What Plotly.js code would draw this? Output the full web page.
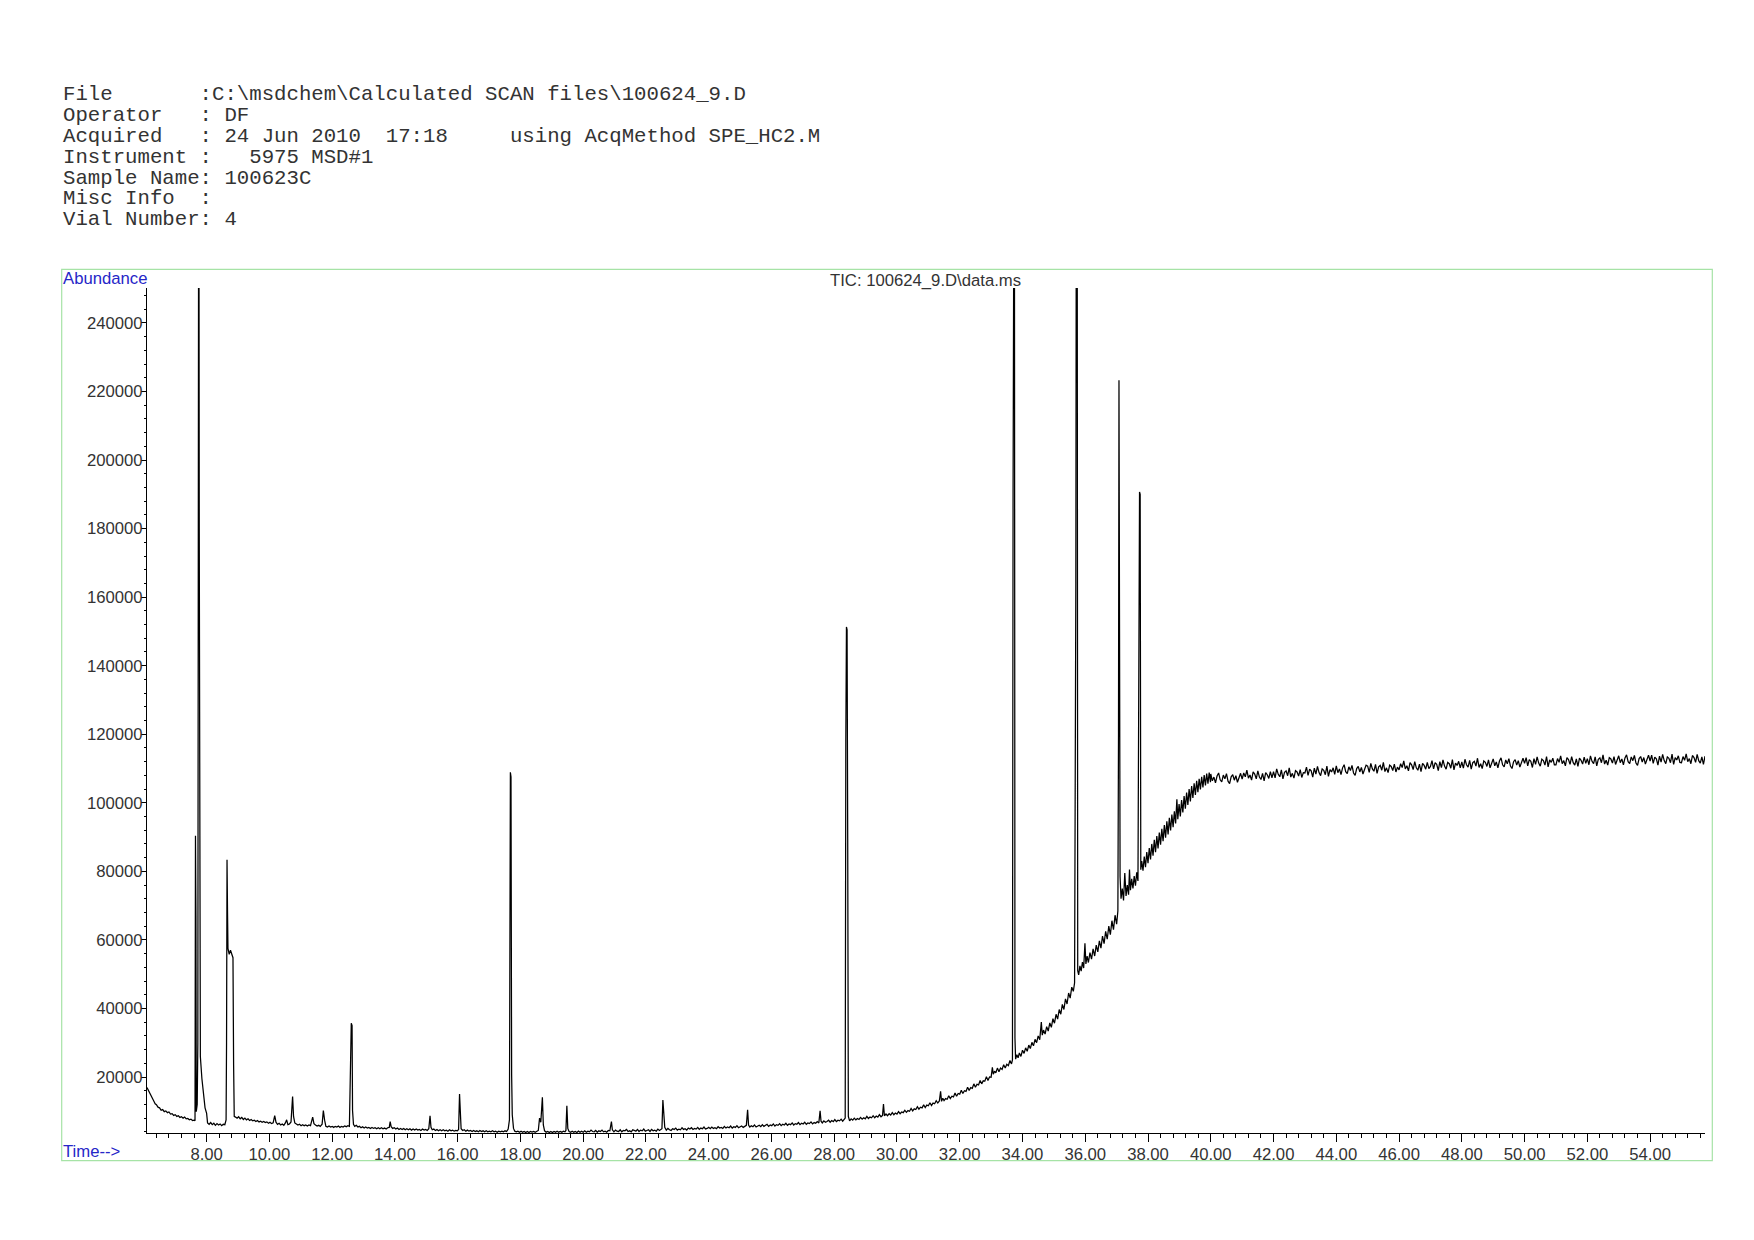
<!DOCTYPE html>
<html>
<head>
<meta charset="utf-8">
<script src="https://cdn.plot.ly/plotly-3.0.1.min.js"></script>
<style>
html,body{margin:0;padding:0;background:#fff;}
#chart{width:1754px;height:1240px;}
</style>
</head>
<body>
<div id="chart"></div>
<script>
// ---------------- DATA ----------------
const headerLines = [
  "File       :C:\\msdchem\\Calculated SCAN files\\100624_9.D",
  "Operator   : DF",
  "Acquired   : 24 Jun 2010  17:18     using AcqMethod SPE_HC2.M",
  "Instrument :   5975 MSD#1",
  "Sample Name: 100623C",
  "Misc Info  :",
  "Vial Number: 4"
];
const plotTitle = "TIC: 100624_9.D\\data.ms";
const yLabel = "Abundance";
const xLabel = "Time--&gt;";

// Retention time (min) and abundance, 6.1 - 20 min
const timeEarly = [6.10,6.13,6.16,6.20,6.24,6.28,6.32,6.36,6.40,6.45,6.50,6.55,6.60,6.65,6.70,6.75,6.80,6.85,6.90,6.95,7.00,7.05,7.10,7.15,7.20,7.25,7.30,7.35,7.40,7.45,7.50,7.55,7.60,7.63,7.645,7.66,7.67,7.70,7.72,7.735,7.75,7.765,7.78,7.80,7.85,7.90,7.95,8.00,8.03,8.08,8.13,8.18,8.23,8.28,8.33,8.38,8.43,8.48,8.53,8.58,8.62,8.635,8.65,8.665,8.68,8.72,8.76,8.80,8.84,8.86,8.88,8.92,8.97,9.02,9.07,9.12,9.17,9.22,9.27,9.32,9.37,9.42,9.47,9.52,9.57,9.62,9.67,9.72,9.77,9.82,9.87,9.92,9.97,10.02,10.07,10.12,10.17,10.21,10.26,10.31,10.36,10.41,10.46,10.51,10.55,10.59,10.64,10.69,10.74,10.77,10.81,10.86,10.91,10.96,11.01,11.06,11.11,11.16,11.21,11.26,11.31,11.38,11.42,11.47,11.52,11.57,11.62,11.68,11.72,11.76,11.80,11.85,11.90,11.95,12.00,12.05,12.10,12.15,12.20,12.25,12.30,12.35,12.40,12.45,12.50,12.55,12.59,12.61,12.635,12.65,12.68,12.72,12.77,12.82,12.87,12.92,12.97,13.02,13.07,13.12,13.17,13.22,13.27,13.32,13.37,13.42,13.47,13.52,13.57,13.62,13.67,13.72,13.77,13.82,13.85,13.88,13.93,13.98,14.03,14.08,14.13,14.18,14.23,14.28,14.33,14.38,14.43,14.48,14.53,14.58,14.63,14.68,14.73,14.78,14.83,14.88,14.93,14.98,15.03,15.08,15.12,15.15,15.19,15.24,15.29,15.34,15.39,15.44,15.49,15.54,15.59,15.64,15.69,15.74,15.79,15.84,15.89,15.94,15.99,16.03,16.06,16.08,16.11,16.16,16.21,16.26,16.31,16.36,16.41,16.46,16.51,16.56,16.61,16.66,16.71,16.76,16.81,16.86,16.91,16.96,17.01,17.06,17.11,17.16,17.21,17.26,17.31,17.36,17.41,17.46,17.51,17.56,17.61,17.65,17.68,17.70,17.72,17.74,17.78,17.82,17.87,17.92,17.97,18.02,18.07,18.12,18.17,18.22,18.27,18.32,18.37,18.42,18.47,18.52,18.57,18.61,18.65,18.70,18.73,18.77,18.82,18.87,18.92,18.97,19.02,19.07,19.12,19.17,19.22,19.27,19.32,19.37,19.42,19.45,19.48,19.51,19.55,19.60,19.65,19.70,19.75,19.80,19.85,19.90,19.95,20.00];
const abundEarly = [16900,16300,15600,14800,14100,13200,12900,12200,11900,11200,11000,10300,10500,9900,10100,9600,9800,9200,9300,8800,9000,8500,8700,8200,8400,8000,8300,7800,7900,7500,7700,7300,7400,7200,90400,66800,9900,12000,29900,330000,330000,180000,30000,26000,19500,14500,11000,9400,6600,6200,6700,6100,6500,5900,6400,6000,6300,5800,6200,6100,7500,30000,83400,69000,57500,55800,57000,55500,54800,23500,8500,8300,8000,8400,7800,8200,7600,8000,7500,7800,7300,7600,7200,7400,7000,7300,6900,7100,6800,7000,6700,6900,6500,6800,6400,6600,8700,6800,6200,6500,6000,6300,5900,6600,7500,6100,6300,6900,14300,8500,6600,6300,6000,6200,5800,6100,5800,6000,5700,6000,5800,8300,6400,6000,5700,5900,5600,6200,10200,7400,5600,5400,5700,5400,5600,5300,5600,5400,5700,5300,5600,5400,5700,5500,5800,5600,23000,35700,35000,10200,6200,5600,5900,5400,5600,5200,5500,5100,5400,5100,5300,5000,5300,5000,5200,4900,5200,4900,5200,4900,5100,4800,5200,5300,7000,5500,5000,5200,4800,5100,4700,5000,4700,5000,4600,4900,4600,4900,4500,4800,4500,4800,4500,4700,4400,4800,4500,4700,4400,4900,8650,5300,4600,4800,4400,4700,4300,4600,4300,4600,4300,4500,4200,4600,4300,4500,4200,4400,4300,4700,15000,10000,4900,4400,4600,4200,4500,4200,4400,4100,4400,4100,4300,4000,4400,4100,4300,4000,4300,4000,4200,4000,4300,4000,4200,3900,4200,4000,4200,4000,4300,4100,4800,7500,108900,107500,20600,9000,5000,4200,4000,4200,3900,4200,3900,4100,3800,4100,3800,4100,3900,4100,3900,4200,4400,8000,6800,14100,6000,4300,3900,4100,3800,4100,3800,4100,3900,4200,3900,4100,3900,4200,4000,4400,11600,5000,4100,3900,4200,3900,4100,3800,4200,3900,4200,3900];

// 20 - 40 min (rising baseline)
const timeMid = [20.05,20.10,20.15,20.20,20.25,20.30,20.35,20.40,20.45,20.50,20.55,20.60,20.65,20.70,20.75,20.80,20.85,20.90,20.93,20.98,21.03,21.08,21.13,21.18,21.23,21.28,21.33,21.38,21.43,21.48,21.53,21.58,21.63,21.68,21.73,21.78,21.83,21.88,21.93,21.98,22.03,22.08,22.13,22.18,22.23,22.28,22.33,22.38,22.43,22.48,22.51,22.54,22.57,22.60,22.65,22.70,22.75,22.80,22.85,22.90,22.95,23.00,23.05,23.10,23.15,23.20,23.25,23.30,23.35,23.40,23.45,23.50,23.55,23.60,23.65,23.70,23.75,23.80,23.85,23.90,23.95,24.00,24.05,24.10,24.15,24.20,24.25,24.30,24.35,24.40,24.45,24.50,24.55,24.60,24.65,24.70,24.75,24.80,24.85,24.90,24.95,25.00,25.05,25.10,25.15,25.20,25.24,25.27,25.31,25.36,25.41,25.46,25.51,25.56,25.61,25.66,25.71,25.76,25.81,25.86,25.91,25.96,26.01,26.06,26.11,26.16,26.21,26.26,26.31,26.36,26.41,26.46,26.51,26.56,26.61,26.66,26.71,26.76,26.81,26.86,26.91,26.96,27.01,27.06,27.11,27.16,27.21,27.26,27.31,27.36,27.41,27.46,27.51,27.55,27.58,27.62,27.67,27.72,27.77,27.82,27.87,27.92,27.97,28.02,28.07,28.12,28.17,28.22,28.27,28.32,28.35,28.37,28.39,28.41,28.43,28.45,28.49,28.54,28.59,28.64,28.69,28.74,28.79,28.84,28.89,28.94,28.99,29.04,29.09,29.14,29.19,29.24,29.29,29.34,29.39,29.44,29.49,29.54,29.57,29.60,29.65,29.70,29.75,29.80,29.85,29.90,29.95,30.00,30.05,30.10,30.15,30.20,30.25,30.30,30.35,30.40,30.45,30.50,30.55,30.60,30.65,30.70,30.75,30.80,30.85,30.90,30.95,31.00,31.05,31.10,31.15,31.20,31.25,31.30,31.35,31.39,31.42,31.46,31.50,31.55,31.60,31.65,31.70,31.75,31.80,31.85,31.90,31.95,32.00,32.05,32.10,32.15,32.20,32.25,32.30,32.35,32.40,32.45,32.50,32.55,32.60,32.65,32.70,32.75,32.80,32.85,32.90,32.95,33.00,33.04,33.07,33.11,33.15,33.20,33.25,33.30,33.35,33.40,33.45,33.50,33.55,33.60,33.65,33.68,33.70,33.72,33.74,33.76,33.78,33.82,33.86,33.90,33.95,34.00,34.05,34.10,34.15,34.20,34.25,34.30,34.35,34.40,34.45,34.50,34.55,34.60,34.63,34.67,34.72,34.77,34.82,34.87,34.92,34.97,35.02,35.07,35.12,35.17,35.22,35.27,35.32,35.37,35.42,35.47,35.52,35.57,35.62,35.66,35.70,35.72,35.74,35.76,35.79,35.83,35.87,35.91,35.95,35.99,36.02,36.06,36.10,36.15,36.20,36.25,36.30,36.35,36.40,36.45,36.50,36.55,36.60,36.65,36.70,36.75,36.80,36.85,36.90,36.95,37.00,37.04,37.06,37.075,37.09,37.11,37.14,37.18,37.22,37.26,37.30,37.34,37.38,37.41,37.44,37.48,37.52,37.56,37.60,37.64,37.68,37.71,37.73,37.75,37.77,37.80,37.84,37.88,37.92,37.96,38.00,38.04,38.08,38.12,38.16,38.20,38.24,38.28,38.32,38.36,38.40,38.44,38.48,38.52,38.56,38.60,38.64,38.68,38.72,38.76,38.80,38.84,38.88,38.92,38.95,38.99,39.03,39.07,39.11,39.15,39.19,39.23,39.27,39.31,39.35,39.39,39.43,39.47,39.51,39.55,39.59,39.63,39.67,39.71,39.75,39.79,39.83,39.87,39.91,39.95,39.99];
const abundMid = [4300,3900,4200,4000,4500,4100,4000,4400,3900,4300,4100,4500,4000,4200,3900,4400,4300,7000,4600,4000,4500,4200,4100,4600,4000,4400,4300,4700,4100,4300,4000,4600,4400,4200,4700,4100,4500,4300,4800,4200,4400,4600,4100,4700,4300,4500,4200,4800,4400,4600,4900,13300,8000,5300,4500,5000,4600,4400,4900,4700,5100,4500,4800,4600,5200,4700,4900,4500,5100,4800,5200,4700,5000,4800,5300,4700,5100,4900,5400,4800,5000,5300,4900,5400,5000,5200,4900,5500,5100,5300,5000,5600,5100,5400,5200,5700,5100,5500,5300,5800,5200,5400,5700,5300,5600,5900,10400,6000,5400,5800,5500,6000,5400,5700,5900,5500,6100,5600,5800,6200,5600,6000,5800,6300,5700,6100,5900,6400,5800,6200,6000,6500,5900,6300,6100,6600,6000,6400,6200,6700,6100,6500,6300,6800,6200,6600,6400,6900,6300,6700,6500,7000,6600,10100,7100,6600,7200,6800,7000,7400,6800,7300,7000,7600,7000,7400,7200,7700,7100,7600,8000,118000,151300,150500,89500,8500,7200,7800,7400,8000,7500,7900,7600,8200,7700,8100,7800,8500,7900,8300,8100,8700,8100,8600,8300,9000,8400,8800,12100,8700,9200,8700,9300,8900,9600,9000,9500,9200,9900,9300,9800,9600,10300,9700,10200,10000,10800,10100,10700,10500,11300,10600,11200,11000,11900,11100,11800,11600,12500,11700,12400,12200,13100,12400,13000,15800,12900,13800,13100,13700,13500,14500,13700,14400,14200,15300,14400,15200,15000,16100,15200,16000,15800,17000,16100,16900,16700,18000,17000,17900,17700,19000,18000,18900,18800,20100,19000,20000,19900,22800,20800,21700,21200,22600,21500,22600,22200,23600,22600,23700,23300,24800,23800,25000,190400,330000,330000,31400,25200,26500,25600,27000,26000,27800,26900,28500,27500,29300,28300,30100,29100,31000,30000,32000,30900,36000,32200,33700,32500,34700,33400,35800,34500,37000,35700,38300,36900,39700,38300,41200,39700,42800,41300,44500,43000,46200,45000,47500,164300,330000,330000,51000,49800,52400,50900,53500,51800,59000,53000,55300,53400,56300,54400,57400,55300,58500,56500,59700,57600,61100,58900,62500,60200,64000,61500,65600,63000,67200,64600,68500,120600,223300,175300,78500,72000,75000,71500,79500,72800,76000,73200,80500,74500,77800,75000,78600,75800,79700,77200,126500,190700,190000,80500,83000,80200,84300,81200,85600,82400,86800,83500,88000,84600,89200,85600,90300,86700,91300,87800,92400,88800,93500,89800,94600,90800,95600,91900,96600,92900,97500,94000,101000,95200,99600,96000,100800,97200,102000,98300,103000,99400,104000,100400,104900,101400,105700,102300,106400,103100,107000,103900,107600,104500,108100,105100,108500,105600,108800,106000];

// 40 - 55.75 min plateau (noisy), one row per minute
const timeLate = [
40.00,40.05,40.10,40.15,40.20,40.25,40.30,40.35,40.40,40.45,40.50,40.55,40.60,40.65,40.70,40.75,40.80,40.85,40.90,40.95,
41.00,41.05,41.10,41.15,41.20,41.25,41.30,41.35,41.40,41.45,41.50,41.55,41.60,41.65,41.70,41.75,41.80,41.85,41.90,41.95,
42.00,42.05,42.10,42.15,42.20,42.25,42.30,42.35,42.40,42.45,42.50,42.55,42.60,42.65,42.70,42.75,42.80,42.85,42.90,42.95,
43.00,43.05,43.10,43.15,43.20,43.25,43.30,43.35,43.40,43.45,43.50,43.55,43.60,43.65,43.70,43.75,43.80,43.85,43.90,43.95,
44.00,44.05,44.10,44.15,44.20,44.25,44.30,44.35,44.40,44.45,44.50,44.55,44.60,44.65,44.70,44.75,44.80,44.85,44.90,44.95,
45.00,45.05,45.10,45.15,45.20,45.25,45.30,45.35,45.40,45.45,45.50,45.55,45.60,45.65,45.70,45.75,45.80,45.85,45.90,45.95,
46.00,46.05,46.10,46.15,46.20,46.25,46.30,46.35,46.40,46.45,46.50,46.55,46.60,46.65,46.70,46.75,46.80,46.85,46.90,46.95,
47.00,47.05,47.10,47.15,47.20,47.25,47.30,47.35,47.40,47.45,47.50,47.55,47.60,47.65,47.70,47.75,47.80,47.85,47.90,47.95,
48.00,48.05,48.10,48.15,48.20,48.25,48.30,48.35,48.40,48.45,48.50,48.55,48.60,48.65,48.70,48.75,48.80,48.85,48.90,48.95,
49.00,49.05,49.10,49.15,49.20,49.25,49.30,49.35,49.40,49.45,49.50,49.55,49.60,49.65,49.70,49.75,49.80,49.85,49.90,49.95,
50.00,50.05,50.10,50.15,50.20,50.25,50.30,50.35,50.40,50.45,50.50,50.55,50.60,50.65,50.70,50.75,50.80,50.85,50.90,50.95,
51.00,51.05,51.10,51.15,51.20,51.25,51.30,51.35,51.40,51.45,51.50,51.55,51.60,51.65,51.70,51.75,51.80,51.85,51.90,51.95,
52.00,52.05,52.10,52.15,52.20,52.25,52.30,52.35,52.40,52.45,52.50,52.55,52.60,52.65,52.70,52.75,52.80,52.85,52.90,52.95,
53.00,53.05,53.10,53.15,53.20,53.25,53.30,53.35,53.40,53.45,53.50,53.55,53.60,53.65,53.70,53.75,53.80,53.85,53.90,53.95,
54.00,54.05,54.10,54.15,54.20,54.25,54.30,54.35,54.40,54.45,54.50,54.55,54.60,54.65,54.70,54.75,54.80,54.85,54.90,54.95,
55.00,55.05,55.10,55.15,55.20,55.25,55.30,55.35,55.40,55.45,55.50,55.55,55.60,55.65,55.70,55.75];
const abundLate = [
108400,106400,107500,105800,107800,108700,106700,106100,108100,107000,108500,106300,105600,107600,108200,106600,107900,106000,107300,108600,
106900,108700,107600,109500,107200,108100,106600,109000,108400,107000,109300,107500,106800,108600,106400,108800,108200,107100,109100,107300,
109100,107300,109900,108300,107600,109600,107000,108900,109300,107900,110200,107500,108600,107200,109400,109000,107800,109700,107400,108800,
108700,110400,108000,109800,109300,107500,110100,108400,110600,108800,107900,109900,109500,108200,110700,107700,109700,109000,110200,108300,
110800,108800,109900,108200,110200,111100,109100,108500,110500,109400,110900,108700,108000,110000,110600,109000,110300,108400,109700,111000,
110700,108900,111500,109900,109200,111200,108600,110500,110900,109500,111800,109100,110200,108800,111000,110600,109400,111300,109000,110400,
109600,111400,110300,112200,109900,110800,109300,111700,111100,109700,112000,110200,109500,111300,109100,111500,110900,109800,111800,110000,
110600,112300,109900,111700,111200,109400,112000,110300,112500,110700,109800,111800,111400,110100,112600,109600,111600,110900,112100,110200,
111900,110100,112700,111100,110400,112400,109800,111700,112100,110700,113000,110300,111400,110000,112200,111800,110600,112500,110200,111600,
112800,110800,111900,110200,112200,113100,111100,110500,112500,111400,112900,110700,110000,112000,112600,111000,112300,110400,111700,113000,
111500,113200,110800,112600,112100,110300,112900,111200,113400,111600,110700,112700,112300,111000,113500,110500,112500,111800,113000,111100,
111100,112900,111800,113700,111400,112300,110800,113200,112600,111200,113500,111700,111000,112800,110600,113000,112400,111300,113300,111500,
112900,111100,113700,112100,111400,113400,110800,112700,113100,111700,114000,111300,112400,111000,113200,112800,111600,113500,111200,112600,
113700,111700,112800,111100,113100,114000,112000,111400,113400,112300,113800,111600,110900,112900,113500,111900,113200,111300,112600,113900,
112200,113900,111500,113300,112800,111000,113600,111900,114100,112300,111400,113400,113000,111700,114200,111200,113200,112500,113700,111800,
111700,113500,112400,114300,112000,112900,111400,113800,113200,111800,114100,112300,111600,113400,111200,113600];

const xTickStep = 2;      // minutes between labelled ticks
const xMinorStep = 0.4;
const yTickStep = 20000;
const yMinorStep = 4000;
const xRange = [6.10, 55.75];
const yRange = [3660, 250200];

// ---------------- LAYOUT ----------------
const W = 1754, H = 1240;
const L = 147, R = 1705, T = 288, B = 1133;   // plot area in pixels
const PW = R - L, PH = B - T;
const px = x => (x - L) / PW;
const py = y => (B - y) / PH;

const times = timeEarly.concat(timeMid, timeLate);
const abund = abundEarly.concat(abundMid, abundLate);

const trace = {
  type: 'scatter', mode: 'lines',
  x: times, y: abund,
  line: {color: '#000000', width: 1.25},
  hoverinfo: 'skip'
};

const sansFont = 'Liberation Sans, Arial, sans-serif';
const monoFont = 'Liberation Mono, Courier New, monospace';
const sansSize = 16.7;

const annotations = [];
const headerTop = 94.8, headerStep = 20.8;
headerLines.forEach((line, i) => {
  annotations.push({
    xref: 'paper', yref: 'paper',
    x: px(61), y: py(headerTop + i * headerStep),
    xanchor: 'left', yanchor: 'middle',
    text: line.replace(/ /g, '\u00a0'),
    showarrow: false,
    font: {family: monoFont, size: 20.7, color: '#333333'}
  });
});
annotations.push({
  xref: 'paper', yref: 'paper', x: px(61), y: py(278.5),
  xanchor: 'left', yanchor: 'middle', text: yLabel, showarrow: false,
  font: {family: sansFont, size: sansSize, color: '#2626c8'}
});
annotations.push({
  xref: 'paper', yref: 'paper', x: px(925), y: py(280.5),
  xanchor: 'center', yanchor: 'middle', text: plotTitle, showarrow: false,
  font: {family: sansFont, size: sansSize, color: '#333333'}
});
annotations.push({
  xref: 'paper', yref: 'paper', x: px(61), y: py(1151),
  xanchor: 'left', yanchor: 'middle', text: xLabel, showarrow: false,
  font: {family: sansFont, size: sansSize, color: '#2626c8'}
});

const layout = {
  width: W, height: H,
  margin: {l: L, r: W - R, t: T, b: H - B, pad: 0},
  paper_bgcolor: '#ffffff', plot_bgcolor: '#ffffff',
  showlegend: false,
  font: {family: sansFont, size: sansSize, color: '#333333'},
  xaxis: {
    range: xRange, showgrid: false, zeroline: false,
    showline: true, linecolor: '#000000', linewidth: 1,
    ticks: 'outside', ticklen: 8, tickwidth: 1, tickcolor: '#000000',
    tick0: 0, dtick: xTickStep, tickformat: '.2f',
    ticklabelstandoff: -2,
    tickfont: {family: sansFont, size: sansSize, color: '#333333'},
    minor: {dtick: xMinorStep, tick0: 0, ticks: 'outside', ticklen: 4, tickwidth: 1, tickcolor: '#000000', showgrid: false},
    fixedrange: true
  },
  yaxis: {
    range: yRange, showgrid: false, zeroline: false,
    showline: true, linecolor: '#000000', linewidth: 1,
    ticks: 'outside', ticklen: 5, tickwidth: 1, tickcolor: '#000000',
    tick0: 0, dtick: yTickStep, tickformat: 'd',
    ticklabelstandoff: -5,
    tickfont: {family: sansFont, size: sansSize, color: '#333333'},
    minor: {dtick: yMinorStep, tick0: 0, ticks: 'outside', ticklen: 2, tickwidth: 1, tickcolor: '#000000', showgrid: false},
    fixedrange: true
  },
  shapes: [{
    type: 'rect', xref: 'paper', yref: 'paper',
    x0: px(61.7), x1: px(1712.3), y0: py(1160.7), y1: py(269.3),
    line: {color: '#a6e3a6', width: 1.2}, fillcolor: 'rgba(0,0,0,0)', layer: 'below'
  }],
  annotations: annotations
};

Plotly.newPlot('chart', [trace], layout, {staticPlot: true, displayModeBar: false});
</script>
</body>
</html>
